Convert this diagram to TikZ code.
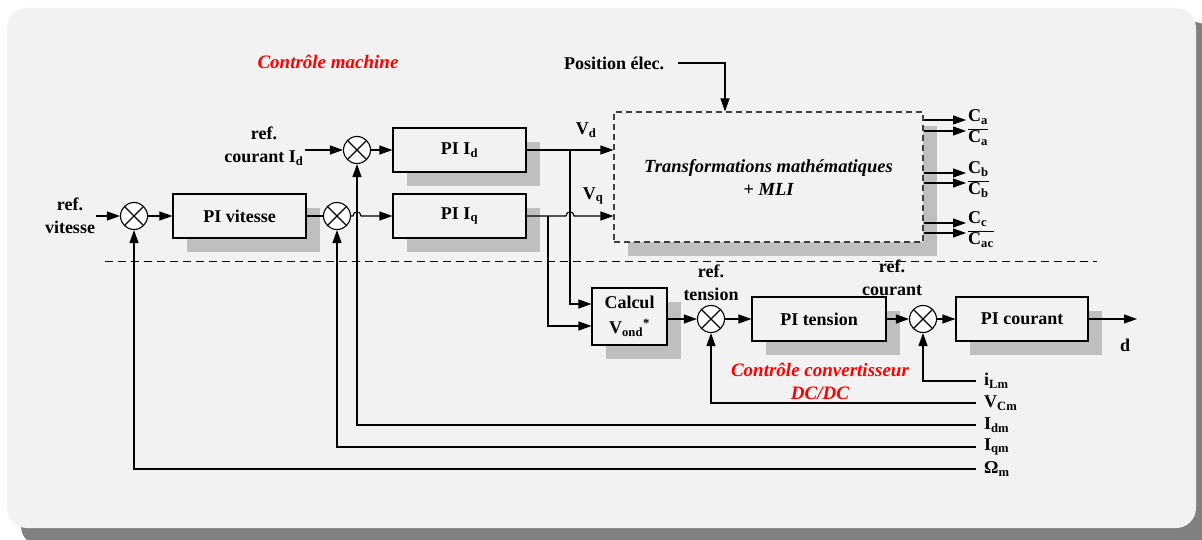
\documentclass[tikz,border=0pt]{standalone}
\usepackage{fontspec}
\setmainfont{Liberation Serif}
\usetikzlibrary{arrows.meta,positioning,calc,shadows}
\definecolor{panelBg}    {RGB}{242, 242, 242}
\definecolor{panelShadow}{RGB}{128, 128, 128}
\definecolor{boxShadow}  {RGB}{191, 191, 191}
\definecolor{ctrlRed}    {RGB}{255,   0,   0}
\definecolor{dashGray}   {RGB}{ 64,  64,  64}

\begin{document}
\begin{tikzpicture}[x=1pt,y=-1pt,
    every node/.style={font=\fontsize{18}{23}\selectfont\bfseries},
    blk/.style={draw,fill=panelBg,line width=1.1pt,minimum height=44pt,align=center,
      drop shadow={shadow xshift=14pt,shadow yshift=-14pt,fill=boxShadow,opacity=1}},
    sumj/.style={circle,draw,fill=white,line width=1.1pt,minimum size=27pt,inner sep=0pt,
      path picture={\draw[line width=1.1pt]
        (path picture bounding box.north west)--(path picture bounding box.south east)
        (path picture bounding box.north east)--(path picture bounding box.south west);}},
    arr/.style={-{Triangle[length=13pt,width=9pt]},line width=1.1pt},
    wire/.style={line width=1.1pt},
    lbl/.style={align=center,inner sep=1pt},
    fbk/.style={anchor=west,inner xsep=8pt,inner ysep=1pt},
    redlbl/.style={text=ctrlRed,align=center,font=\fontsize{19}{23}\selectfont\bfseries\itshape}]

    \useasboundingbox (0,0) rectangle (1202,540);

    % fond
    \fill[panelShadow,rounded corners=20pt] (21,22) rectangle (1214,546);
    \fill[panelBg,rounded corners=20pt] (7,8) rectangle (1196,528);

    % boucles machine
    \node[sumj] (s1) at (134,216) {};
    \node[blk,minimum width=133pt] (pivit) at (239.5,216) {PI vitesse};
    \node[sumj] (s2) at (337,216) {};
    \node[sumj] (s3) at (357,150) {};
    \node[blk,minimum width=133pt] (pid) at (459.5,150) {PI I\textsubscript{d}};
    \node[blk,minimum width=133pt] (piq) at (459.5,216) {PI I\textsubscript{q}};
    \node[blk,dash pattern=on 6pt off 4pt,draw=dashGray,minimum width=309pt,minimum height=130pt,
      font=\fontsize{18.5}{23}\selectfont\bfseries\itshape] (tr) at (768.5,177)
      {Transformations mathématiques\\+ MLI};

    % boucles convertisseur
    \node[blk,minimum width=75pt,minimum height=57pt,
      font=\fontsize{18}{25}\selectfont\bfseries] (calc) at (629.5,316.5)
      {Calcul\\V\textsubscript{ond}\textsuperscript{*}};
    \node[sumj] (s4) at (711,319) {};
    \node[blk,minimum width=134pt] (pit) at (819,319) {PI tension};
    \node[sumj] (s5) at (923,319) {};
    \node[blk,minimum width=132pt] (pic) at (1022,319) {PI courant};

    % textes
    \node[lbl] (refv) at (70,216) {ref.\\vitesse};
    \node[lbl] (refid) at (264,146) {ref.\\courant I\textsubscript{d}};
    \node[redlbl] (cm) at (328,62) {Contrôle machine};
    \node[lbl,inner xsep=14pt] (pos) at (614,63) {Position élec.};
    \node[lbl] (vd) at (586,130) {V\textsubscript{d}};
    \node[lbl] (vq) at (593,196) {V\textsubscript{q}};
    \node[lbl] (reft) at (711,283) {ref.\\tension};
    \node[lbl] (refc) at (892,278) {ref.\\courant};
    \node[redlbl] (cdc) at (820,381) {Contrôle convertisseur\\DC/DC};
    \node[lbl] (d) at (1125,345) {d};

    % mesures
    \node[fbk] (ilm) at (976,381) {i\textsubscript{Lm}};
    \node[fbk] (vcm) at (976,403) {V\textsubscript{Cm}};
    \node[fbk] (idm) at (976,425) {I\textsubscript{dm}};
    \node[fbk] (iqm) at (976,447) {I\textsubscript{qm}};
    \node[fbk] (om)  at (976,469) {Ω\textsubscript{m}};

    % sorties MLI
    \node[lbl,anchor=west] (ca)  at (967,117) {C\textsubscript{a}};
    \node[lbl,anchor=west] (cab) at (967,137) {$\overline{\mbox{C\textsubscript{a}}}$};
    \node[lbl,anchor=west] (cb)  at (967,169) {C\textsubscript{b}};
    \node[lbl,anchor=west] (cbb) at (967,189) {$\overline{\mbox{C\textsubscript{b}}}$};
    \node[lbl,anchor=west] (cc)  at (967,219) {C\textsubscript{c}};
    \node[lbl,anchor=west] (ccb) at (967,239) {$\overline{\mbox{C\textsubscript{ac}}}$};
    \coordinate (oa1) at (966,120);
    \coordinate (oa2) at (966,131);
    \coordinate (ob1) at (966,173);
    \coordinate (ob2) at (966,183);
    \coordinate (oc1) at (966,223);
    \coordinate (oc2) at (966,233);
    \foreach \c in {oa1,oa2,ob1,ob2,oc1,oc2}{
      \draw[arr] (tr.east |- \c) -- (\c);
    }

    % separation
    \draw[dashed,dash pattern=on 8pt off 5pt,line width=1pt] (105,261) -- (1097,261);

    % liaisons
    \coordinate (vdb) at (570,150);
    \coordinate (vqb) at (548,216);
    \coordinate (dout) at (1137,319);
    \draw[arr] (refv.east) -- (s1);
    \draw[arr] (s1) -- (pivit);
    \draw[wire] (pivit) -- (s2);
    \draw[arr] (s2) -- ([xshift=-4pt]s2 -| s3)
      .. controls +(0,-5.5) and +(0,-5.5) .. ([xshift=4pt]s2 -| s3) -- (piq);
    \draw[arr] (refid.east |- s3) -- (s3);
    \draw[arr] (s3) -- (pid);
    \draw[arr] (pid) -- (tr.west |- pid);
    \draw[arr] (piq) -- ([xshift=-4pt]piq -| vdb)
      .. controls +(0,-5.5) and +(0,-5.5) .. ([xshift=4pt]piq -| vdb) -- (tr.west |- piq);
    \draw[arr] (pos.east) -| ([xshift=-43.5pt]tr.north);
    \draw[arr] (vdb) |- ([yshift=12.5pt]calc.west);
    \draw[arr] (vqb) |- ([yshift=-9.5pt]calc.west);
    \draw[arr] (calc.east |- s4) -- (s4);
    \draw[arr] (s4) -- (pit);
    \draw[arr] (pit) -- (s5);
    \draw[arr] (s5) -- (pic);
    \draw[arr] (pic) -- (dout);

    % retours
    \draw[arr] (ilm.west) -| (s5);
    \draw[arr] (vcm.west) -| (s4);
    \draw[arr] (idm.west) -| (s3);
    \draw[arr] (iqm.west) -| (s2);
    \draw[arr] (om.west) -| (s1);

\end{tikzpicture}
\end{document}
